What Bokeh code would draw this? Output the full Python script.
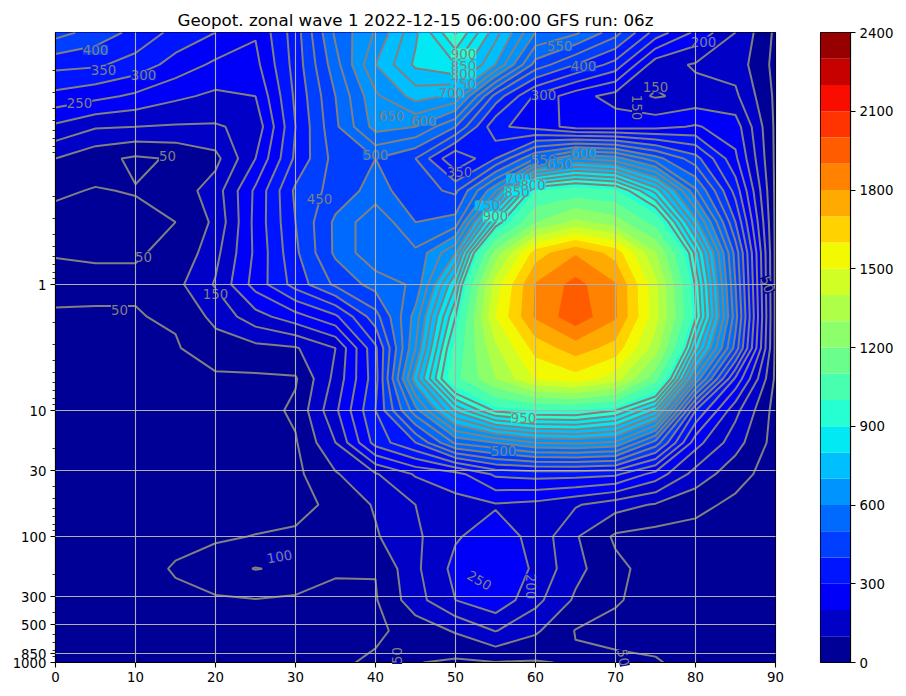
import numpy as np
from bokeh.embed import file_html
from bokeh.resources import INLINE
from bokeh.layouts import row
from bokeh.plotting import figure
from bokeh.models import Range1d, FixedTicker, ColumnDataSource
from bokeh.core.properties import value

TITLE = "Geopot. zonal wave 1 2022-12-15 06:00:00 GFS run: 06z"
lat = [0, 5, 10, 15, 20, 25, 30, 35, 40, 45, 50, 55, 60, 65, 70, 75, 80, 85, 90]
pressure = [0.01, 0.018, 0.032, 0.056, 0.1, 0.18, 0.32, 0.56, 1, 1.8, 3.2, 5.6, 10, 18, 32, 56, 100, 180, 320, 560, 1000]
z0 = [470,430,385,335,300,255,375,560,655,790,955,770,600,560,470,330,240,150,40]
z1 = [365,358,330,280,240,235,370,530,700,810,850,700,480,400,330,170,145,130,35]
z2 = [285,265,240,210,190,200,360,500,640,720,690,430,290,220,180,145,165,160,40]
z3 = [190,155,150,145,145,165,350,490,620,600,500,310,280,230,230,235,255,225,40]
z4 = [100,65,42,55,85,200,360,470,500,450,300,400,550,650,620,520,420,260,40]
z5 = [55,48,52,70,125,260,410,470,520,470,440,640,1000,1040,1010,830,560,330,40]
z6 = [40,38,40,50,110,265,400,510,590,500,520,900,1200,1330,1250,1060,720,400,40]
z7 = [49,47,48,55,135,260,390,510,590,560,700,1240,1650,1790,1660,1310,880,480,40]
z8 = [55,56,54,85,155,270,370,460,520,560,850,1450,1810,1935,1810,1430,940,500,40]
z9 = [48,47,48,55,115,180,230,290,430,620,950,1500,1815,1965,1815,1440,960,520,40]
z10 = [40,38,36,46,75,85,95,150,340,650,1030,1380,1640,1750,1660,1350,830,480,40]
z11 = [30,30,30,30,42,42,45,165,330,730,1070,1300,1510,1560,1450,1140,640,290,40]
z12 = [25,25,25,25,25,25,60,190,350,580,810,960,995,1000,950,800,350,165,30]
z13 = [25,25,25,25,25,25,45,150,320,400,560,600,650,660,640,480,220,120,30]
z14 = [25,25,25,25,25,25,38,95,145,205,230,310,320,320,310,230,130,70,25]
z15 = [25,25,25,25,25,25,30,65,105,150,182,195,185,155,120,95,65,38,22]
z16 = [25,25,25,35,42,52,60,65,95,140,195,225,185,105,42,30,30,25,20]
z17 = [22,22,28,55,80,102,90,58,52,140,215,250,190,115,62,30,28,25,20]
z18 = [20,20,20,38,44,48,42,32,46,130,200,235,165,92,55,30,25,22,18]
z19 = [18,18,18,20,22,22,22,24,40,70,105,152,108,48,35,28,24,20,16]
z20 = [15,15,16,18,20,20,25,42,58,52,42,48,46,55,60,55,30,20,15]
rows = [z0,z1,z2,z3,z4,z5,z6,z7,z8,z9,z10,z11,z12,z13,z14,z15,z16,z17,z18,z19,z20]

y_ticks = [1, 10, 30, 100, 300, 500, 850, 1000]
x_ticks = [0, 10, 20, 30, 40, 50, 60, 70, 80, 90]
bar_ticks = [0, 300, 600, 900, 1200, 1500, 1800, 2100, 2400]

label_text = ["400","350","300","250","50","50","150","50","450","650","600","500","900","850","800","750","700",
              "550","400","300","200","150","150","350","550","650","600","700","850","800","750","900","950","500",
              "100","250","200","50","50","50"]
label_lat = [5,6,11,3,14,11,20,8,33,42,46,40,51,51,51,51,49.5,63,66,61,81,75,72.7,50.5,61,63,66,57.9,57.7,59.7,54,55,58.5,56,
             28,53,59.4,42.7,71,89]
label_p = [.0137,.0197,.0219,.036,.0964,.6,1.18,1.58,.211,.0464,.05,.093,.0147,.0183,.0215,.0254,.03,.0127,.0186,.0316,.0118,
           .0273,.0394,.127,.102,.11,.0912,.144,.183,.161,.236,.288,11.4,21,144,223,249,880,913,1]
label_angle = [0,0,0,0,0,0,0,0,0,0,0,0,0,0,0,0,0,0,0,0,0,0,-90,0,0,0,0,0,0,0,0,0,0,0,10,-30,-90,90,-80,-70]

levels = list(range(0, 2500, 100))
line_levels = list(range(50, 1000, 50))
FONT = "DejaVu Sans"
GRID = "#b0b0b0"
LINE = "#808080"


def jet(t):
    r = np.interp(t, [0, .35, .66, .89, 1], [0, 0, 1, 1, .5])
    g = np.interp(t, [0, .125, .375, .64, .91, 1], [0, 0, 1, 1, 0, 0])
    b = np.interp(t, [0, .11, .34, .65, 1], [.5, 1, 1, 0, 0])
    return "#%02x%02x%02x" % (int(r * 255), int(g * 255), int(b * 255))


palette = [jet((k + .5) / 24) for k in range(24)]


def to_pressure(v):
    if isinstance(v, np.ndarray):
        return np.power(10.0, v)
    return [to_pressure(i) for i in v]


def style_axis(ax):
    ax.major_label_text_font = FONT
    ax.major_label_text_font_size = "13.3px"
    ax.major_label_text_color = "#000000"
    ax.major_tick_in = 0
    ax.major_tick_out = 5
    ax.minor_tick_in = 0
    ax.minor_tick_out = 3
    ax.major_tick_line_width = 1.1
    ax.minor_tick_line_width = 0.8
    ax.axis_line_color = "#000000"
    ax.axis_line_width = 1.1
    ax.major_label_standoff = 4


p = figure(width=800, height=688, frame_width=720, frame_height=630,
           x_range=Range1d(0, 90), y_range=Range1d(1000, 0.01), y_axis_type="log",
           output_backend="svg", toolbar_location=None,
           min_border_left=55, min_border_right=25, min_border_top=32, min_border_bottom=26,
           background_fill_color=palette[0], border_fill_color="#ffffff")
p.title.text = TITLE
p.title.align = "center"
p.title.text_font = FONT
p.title.text_font_size = "16.7px"
p.title.text_font_style = "normal"
p.title.text_color = "#000000"
p.title.offset = 0
p.title.standoff = 6
p.outline_line_color = "#000000"
p.outline_line_width = 1.1

z = np.array(rows, dtype=float)
logp = np.log10(np.array(pressure))

# Each band is painted as "everything above this level", lowest first, so that
# adjacent bands overlap and no seam of the background shows between them.
top_level = levels[-1] + 100
for k, lev in enumerate(levels[:-1]):
    if lev >= z.max():
        break
    band = p.contour(lat, logp, z, [lev, top_level], fill_color=[palette[k]], line_color=None)
    d = dict(band.fill_renderer.data_source.data)
    d["ys"] = to_pressure(list(d["ys"]))
    band.fill_renderer.data_source.data = d

lines = p.contour(lat, logp, z, line_levels, line_color=LINE, line_width=2, fill_color=None)
d = dict(lines.line_renderer.data_source.data)
d["ys"] = to_pressure(list(d["ys"]))
lines.line_renderer.data_source.data = d

label_bg = [palette[min(int(int(t) / 100), 23)] for t in label_text]
labels = ColumnDataSource(dict(x=label_lat, y=label_p, text=label_text,
                               angle=[np.deg2rad(a) for a in label_angle], bg=label_bg))
p.text("x", "y", "text", source=labels, angle="angle", text_color=LINE,
       text_font=value(FONT), text_font_size="13.3px", text_align="center",
       text_baseline="middle", background_fill_color="bg", level="overlay")

minor = [m * 10.0 ** e for e in range(-2, 3) for m in range(2, 10)]
minor = [m for m in minor if round(m) not in y_ticks or m < 1]
p.yaxis.ticker = FixedTicker(ticks=y_ticks, minor_ticks=minor)
p.yaxis.major_label_overrides = {t: str(t) for t in y_ticks}
p.xaxis.ticker = FixedTicker(ticks=x_ticks)
style_axis(p.xaxis[0])
style_axis(p.yaxis[0])
p.xgrid.grid_line_color = GRID
p.ygrid.grid_line_color = GRID
p.xgrid.grid_line_width = 1.1
p.ygrid.grid_line_width = 1.1
p.xgrid.level = "overlay"
p.ygrid.level = "overlay"

cb = figure(width=98, height=688, frame_width=30, frame_height=630,
            x_range=Range1d(0, 1), y_range=Range1d(0, 2400), y_axis_location="right",
            output_backend="svg", toolbar_location=None,
            min_border_left=20, min_border_right=48, min_border_top=32, min_border_bottom=26,
            border_fill_color="#ffffff")
cb.quad(left=0, right=1, bottom=levels[:-1], top=levels[1:], fill_color=palette, line_color=None)
cb.xaxis.visible = False
cb.grid.visible = False
cb.yaxis.ticker = FixedTicker(ticks=bar_ticks)
style_axis(cb.yaxis[0])
cb.yaxis[0].minor_tick_out = 0
cb.outline_line_color = "#000000"
cb.outline_line_width = 1.1

page = row(p, cb, spacing=0)
open("out.html", "w").write(file_html(page, INLINE))
